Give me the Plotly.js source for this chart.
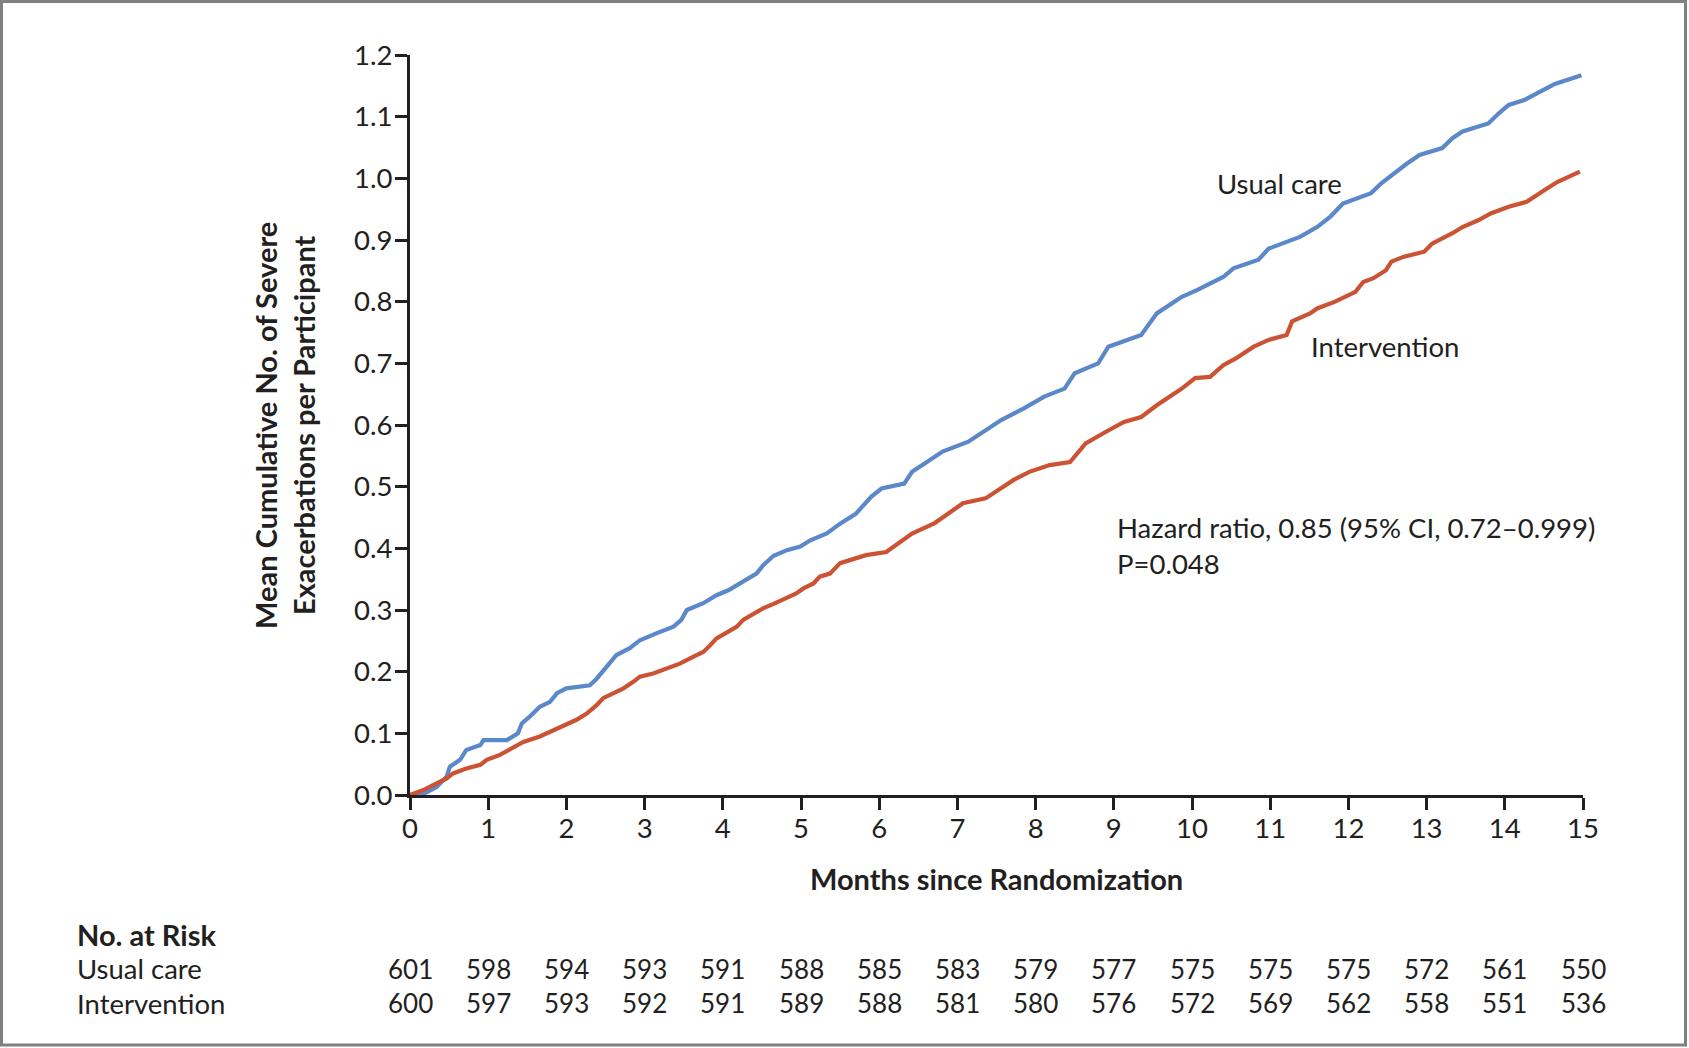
<!DOCTYPE html>
<html>
<head>
<meta charset="utf-8">
<script src="https://cdn.plot.ly/plotly-3.0.1.min.js"></script>
<style>
html,body{margin:0;padding:0;background:#fff;}
#chart{width:1689px;height:1048px;}
</style>
</head>
<body>
<div id="chart"></div>
<script>
// ---- Data ----
const usualMonths = [0,0.19,0.34,0.47,0.51,0.64,0.72,0.90,0.94,1.24,1.38,1.43,1.53,1.66,1.79,1.88,2.00,2.30,2.39,2.52,2.64,2.81,2.94,3.15,3.37,3.47,3.54,3.75,3.92,4.07,4.26,4.43,4.52,4.65,4.82,4.99,5.12,5.33,5.50,5.70,5.90,6.03,6.32,6.42,6.61,6.81,7.14,7.33,7.56,7.85,8.11,8.37,8.50,8.80,8.93,9.35,9.55,9.87,10.07,10.40,10.53,10.85,10.98,11.38,11.60,11.77,11.93,12.29,12.42,12.75,12.91,13.20,13.33,13.46,13.79,13.92,14.05,14.25,14.44,14.64,14.98];
const usualValues = [0,0.003,0.013,0.030,0.046,0.057,0.073,0.081,0.089,0.089,0.100,0.116,0.127,0.143,0.151,0.165,0.173,0.178,0.189,0.208,0.227,0.238,0.251,0.262,0.273,0.284,0.300,0.311,0.324,0.332,0.346,0.359,0.373,0.388,0.397,0.403,0.413,0.424,0.440,0.456,0.484,0.497,0.505,0.524,0.540,0.557,0.573,0.589,0.608,0.627,0.646,0.659,0.684,0.700,0.727,0.746,0.781,0.808,0.819,0.840,0.854,0.868,0.886,0.905,0.921,0.938,0.959,0.976,0.992,1.024,1.038,1.049,1.065,1.076,1.089,1.105,1.119,1.127,1.140,1.153,1.167];

const interMonths = [0,0.17,0.34,0.47,0.55,0.72,0.90,0.98,1.15,1.32,1.45,1.66,1.83,2.00,2.13,2.26,2.39,2.47,2.60,2.73,2.86,2.94,3.11,3.28,3.45,3.62,3.75,3.84,3.92,4.07,4.18,4.26,4.41,4.52,4.65,4.82,4.94,5.03,5.16,5.24,5.37,5.50,5.83,6.09,6.25,6.42,6.71,6.91,7.07,7.36,7.49,7.72,7.92,8.18,8.44,8.64,8.90,9.13,9.35,9.55,9.87,10.04,10.23,10.40,10.56,10.79,10.98,11.21,11.28,11.51,11.60,11.83,12.09,12.19,12.32,12.48,12.55,12.71,12.97,13.07,13.33,13.46,13.66,13.82,14.05,14.28,14.51,14.67,14.96];
const interValues = [0,0.008,0.019,0.027,0.035,0.043,0.049,0.057,0.065,0.076,0.086,0.095,0.105,0.116,0.122,0.132,0.146,0.157,0.165,0.173,0.184,0.192,0.197,0.205,0.213,0.224,0.232,0.243,0.254,0.265,0.273,0.284,0.295,0.303,0.310,0.319,0.327,0.335,0.343,0.354,0.359,0.376,0.389,0.394,0.408,0.424,0.441,0.459,0.473,0.481,0.492,0.511,0.524,0.535,0.540,0.570,0.589,0.605,0.613,0.632,0.659,0.676,0.678,0.697,0.708,0.727,0.738,0.746,0.768,0.781,0.789,0.800,0.816,0.832,0.838,0.851,0.865,0.873,0.881,0.894,0.911,0.921,0.932,0.943,0.954,0.962,0.981,0.994,1.011];

const riskMonths = [0,1,2,3,4,5,6,7,8,9,10,11,12,13,14,15];
const riskUsual = [601,598,594,593,591,588,585,583,579,577,575,575,575,572,561,550];
const riskInter = [600,597,593,592,591,589,588,581,580,576,572,569,562,558,551,536];

const seriesNames = ["Usual care","Intervention"];
const yTickVals = [0,0.1,0.2,0.3,0.4,0.5,0.6,0.7,0.8,0.9,1.0,1.1,1.2];
const xTickVals = [0,1,2,3,4,5,6,7,8,9,10,11,12,13,14,15];

// ---- Styles ----
const FONT = "Lato, 'Open Sans', sans-serif";
const INK = "#231f20";
const BLUE = "#5b88c9";
const RED = "#cb5334";
const TXT = 27.5;   // regular text
const BOLD = 29;    // bold titles
const NUM = 26;     // numbers

const traces = [
  {x: usualMonths, y: usualValues, type: "scatter", mode: "lines", name: seriesNames[0],
   line: {shape: "linear", color: BLUE, width: 4.2}},
  {x: interMonths, y: interValues, type: "scatter", mode: "lines", name: seriesNames[1],
   line: {shape: "linear", color: RED, width: 4.2}}
];

const annotations = [];
const txt = (o, size) => Object.assign({showarrow: false, font: {family: FONT, size: size || TXT, color: INK}}, o);

annotations.push(txt({xref: "paper", yref: "paper", x: -0.1075, y: 0.5, textangle: -90,
  text: "<b>Mean Cumulative No. of Severe</b><br><b>Exacerbations per Participant</b>",
  xanchor: "center", yanchor: "middle"}, BOLD));
annotations.push(txt({xref: "paper", yref: "paper", x: 0.5, y: -0.1135,
  text: "<b>Months since Randomization</b>", xanchor: "center", yanchor: "middle"}, BOLD));
annotations.push(txt({xref: "x", yref: "y", x: 10.29, y: 0.992, text: seriesNames[0],
  xanchor: "left", yanchor: "middle"}));
annotations.push(txt({xref: "x", yref: "y", x: 11.50, y: 0.728, text: seriesNames[1],
  xanchor: "left", yanchor: "middle"}));
annotations.push(txt({xref: "x", yref: "y", x: 9.02, y: 0.433,
  text: "Hazard ratio, 0.85 (95% CI, 0.72\u20130.999)", xanchor: "left", yanchor: "middle"}));
annotations.push(txt({xref: "x", yref: "y", x: 9.02, y: 0.3755,
  text: "P=0.048", xanchor: "left", yanchor: "middle"}));

const labelX = -0.2857;
annotations.push(txt({xref: "paper", yref: "paper", x: labelX, y: -0.189,
  text: "<b>No. at Risk</b>", xanchor: "left", yanchor: "middle"}, BOLD));
annotations.push(txt({xref: "paper", yref: "paper", x: labelX, y: -0.2351,
  text: seriesNames[0], xanchor: "left", yanchor: "middle"}));
annotations.push(txt({xref: "paper", yref: "paper", x: labelX, y: -0.2811,
  text: seriesNames[1], xanchor: "left", yanchor: "middle"}));
riskMonths.forEach((m, i) => {
  annotations.push(txt({xref: "x", yref: "paper", x: m, y: -0.2351, text: String(riskUsual[i]),
    xanchor: "center", yanchor: "middle"}, NUM));
  annotations.push(txt({xref: "x", yref: "paper", x: m, y: -0.2811, text: String(riskInter[i]),
    xanchor: "center", yanchor: "middle"}, NUM));
});

const axisCommon = {
  showline: true, linewidth: 3, linecolor: INK,
  ticks: "outside", ticklen: 12, tickwidth: 3, tickcolor: INK,
  showgrid: false, zeroline: false,
  tickfont: {family: FONT, size: 27.5, color: INK}
};

const layout = {
  width: 1689, height: 1048,
  margin: {l: 410, r: 106, t: 55, b: 253, pad: 0},
  paper_bgcolor: "#fff", plot_bgcolor: "#fff",
  showlegend: false,
  font: {family: FONT, size: TXT, color: INK},
  xaxis: Object.assign({}, axisCommon, {range: [0, 15], tickvals: xTickVals, fixedrange: true,
    ticklabelstandoff: -5}),
  yaxis: Object.assign({}, axisCommon, {range: [0, 1.2], tickvals: yTickVals, tickformat: ".1f",
    ticklabelstandoff: -3, fixedrange: true}),
  annotations: annotations,
  shapes: [{type: "rect", xref: "paper", yref: "paper",
    x0: -0.34825, x1: 1.08738, y0: -0.33784, y1: 1.0723,
    line: {color: "#808080", width: 3}, fillcolor: "rgba(0,0,0,0)", layer: "above"}]
};

Plotly.newPlot("chart", traces, layout, {displayModeBar: false, staticPlot: true});
</script>
</body>
</html>
